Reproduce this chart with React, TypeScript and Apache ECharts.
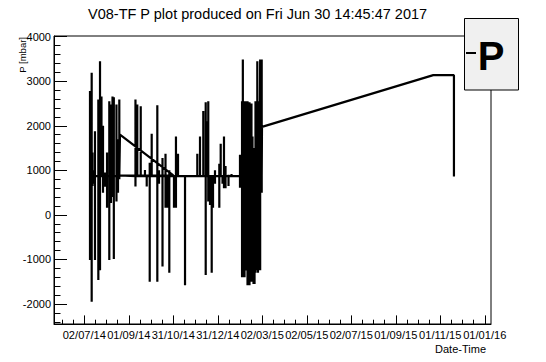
import React, { useEffect, useRef } from "react";
import * as echarts from "echarts";

// x values: days since 02/07/14 (first labelled tick); y values: P in mbar
const TICK_PERIOD = 60.875;
const TICK_LABELS = ["02/07/14", "01/09/14", "31/10/14", "31/12/14", "02/03/15", "02/05/15", "02/07/15", "01/09/15", "01/11/15", "01/01/16"];
const Y_TICKS = [-2000, -1000, 0, 1000, 2000, 3000, 4000];
const X_MIN = -41.45;
const X_MAX = 556.4;
const Y_MIN = -2449;
const Y_MAX = 4016;
const BASELINE = 870;

const C1_DAYS = [7.8, 10.1, 11.2, 12.5, 14.6, 19.2, 21.5, 23.5, 25.6, 28.3, 31.1, 34.2, 36.5, 38.6, 40.4, 44.0, 46.1, 47.9];
const C1_HIGH = [2780, 3190, 1400, 1000, 1880, 2590, 3450, 2660, 2000, 950, 1400, 2550, 2480, 2660, 2640, 2480, 1700, 2590];
const C1_LOW = [-1010, -1950, 650, 700, -1010, -1460, -1240, 870, 500, 630, 160, -1010, 270, 400, -990, 300, 500, 800];

const DIAG_DAYS = [48.8, 121.8];
const DIAG_VALUES = [1800, 885];

const C2_DAYS = [70.0, 72.5, 77.2, 83.0, 85.4, 89.5, 92.2, 99.9, 102.2, 107.0, 111.1, 113.8, 116.3, 122.7, 125.4, 128.2, 137.8, 154.6, 158.3, 162.8, 166.1, 167.9, 169.6, 172.0, 174.3, 176.1, 178.8, 184.7, 186.6, 189.1, 191.1, 193.2, 197.3, 201.4];
const C2_HIGH = [2590, 2480, 2440, 1010, 870, 1170, 1820, 2460, 1000, 1280, 1370, 870, 1000, 870, 1760, 1370, 870, 1370, 1760, 2330, 2530, 2100, 2550, 870, 870, 700, 1000, 1150, 1600, 870, 1760, 1100, 900, 920];
const C2_LOW = [637, 870, 870, 870, 637, -1500, 870, -1500, 700, -1160, 160, 160, -1300, 160, 160, 870, -1577, 870, 870, 870, -1350, 870, 300, 225, -1300, 160, 700, 160, 870, 700, 600, 600, 650, 870];

const C3_DAYS = [213.0, 214.5, 215.8, 216.9, 218.1, 219.2, 220.5, 221.9, 223.3, 224.6, 226.0, 227.4, 228.7, 230.1, 231.5, 232.9, 234.2, 235.6, 236.7, 237.6, 238.6, 239.7, 240.6, 241.7, 242.7];
const C3_HIGH = [1350, 1350, 2550, 3490, 2550, 2330, 2550, 2000, 2550, 1500, 2530, 1760, 2500, 1760, 1500, 1350, 2550, 1760, 3450, 2550, 1760, 1760, 3490, 1760, 3490];
const C3_LOW = [610, 610, -1400, 610, -1400, -1400, 610, -1250, -1580, -1580, -1580, -1300, -1500, -1300, -1550, -1550, -1300, -1240, -1240, -1300, -1240, -1240, -1240, 870, 500];

const TAIL_DAYS = [243.1, 477.4, 505.7, 505.7];
const TAIL_VALUES = [1975, 3137, 3137, 863];

const FONT = "'Liberation Sans', Arial, Helvetica, sans-serif";

function addSpikes(out: number[][], days: number[], high: number[], low: number[]) {
  days.forEach((d, i) => {
    out.push([d, BASELINE], [d, high[i]], [d, low[i]], [d, BASELINE]);
  });
}

function buildPath(): number[][] {
  const path: number[][] = [];
  addSpikes(path, C1_DAYS, C1_HIGH, C1_LOW);
  DIAG_DAYS.forEach((d, i) => path.push([d, DIAG_VALUES[i]]));
  path.push([DIAG_DAYS[0], BASELINE + 15]);
  addSpikes(path, C2_DAYS, C2_HIGH, C2_LOW);
  addSpikes(path, C3_DAYS, C3_HIGH, C3_LOW);
  path.push([TAIL_DAYS[0], BASELINE]);
  TAIL_DAYS.forEach((d, i) => path.push([d, TAIL_VALUES[i]]));
  return path;
}

export default function App() {
  const ref = useRef<HTMLDivElement>(null);
  useEffect(() => {
    document.body.style.margin = "0";
    if (!ref.current) return;
    const chart = echarts.init(ref.current, undefined, { renderer: "svg" });
    const majorDays = TICK_LABELS.map((_, i) => i * TICK_PERIOD);
    const minorDays: number[] = [];
    for (let k = -3; k < 50; k++) {
      const v = (k * TICK_PERIOD) / 4;
      if (k % 4 !== 0 && v > X_MIN && v < X_MAX) minorDays.push(v);
    }
    const yMinor: number[] = [];
    for (let v = -2400; v <= 4000; v += 200) {
      if (v % 1000 !== 0 && v > Y_MIN && v < Y_MAX) yMinor.push(v);
    }
    const black = "#000";
    chart.setOption({
      animation: false,
      backgroundColor: "#fff",
      title: {
        text: "V08-TF P plot produced on Fri Jun 30 14:45:47 2017",
        left: 88,
        top: 6,
        padding: 0,
        textStyle: { fontSize: 14.5, fontWeight: "normal", color: black, fontFamily: FONT },
      },
      grid: { left: 54, top: 36, width: 437, height: 288, show: true, borderColor: black, borderWidth: 1, backgroundColor: "transparent" },
      xAxis: [
        {
          type: "value",
          min: X_MIN,
          max: X_MAX,
          position: "bottom",
          axisLine: { show: true, onZero: false, lineStyle: { color: black, width: 1 } },
          axisTick: { show: true, inside: true, length: 8.6, customValues: majorDays, lineStyle: { color: black, width: 1 } },
          axisLabel: {
            show: true,
            customValues: majorDays,
            formatter: (v: number) => TICK_LABELS[Math.round(v / TICK_PERIOD)] ?? "",
            color: black,
            fontSize: 11.1,
            fontFamily: FONT,
            margin: 5,
          },
          splitLine: { show: false },
        },
        {
          type: "value",
          min: X_MIN,
          max: X_MAX,
          position: "bottom",
          axisLine: { show: false, onZero: false },
          axisTick: { show: true, inside: true, length: 4.3, customValues: minorDays, lineStyle: { color: black, width: 1 } },
          axisLabel: { show: false },
          splitLine: { show: false },
        },
      ],
      yAxis: [
        {
          type: "value",
          min: Y_MIN,
          max: Y_MAX,
          position: "left",
          axisLine: { show: true, onZero: false, lineStyle: { color: black, width: 1 } },
          axisTick: { show: true, inside: true, length: 13, customValues: Y_TICKS, lineStyle: { color: black, width: 1 } },
          axisLabel: {
            show: true,
            customValues: Y_TICKS,
            formatter: (v: number) => String(Math.round(v)),
            color: black,
            fontSize: 11,
            fontFamily: FONT,
            margin: 3,
          },
          splitLine: { show: false },
        },
        {
          type: "value",
          min: Y_MIN,
          max: Y_MAX,
          position: "left",
          axisLine: { show: false, onZero: false },
          axisTick: { show: true, inside: true, length: 6.5, customValues: yMinor, lineStyle: { color: black, width: 1 } },
          axisLabel: { show: false },
          splitLine: { show: false },
        },
      ],
      series: [
        {
          name: "P",
          type: "line",
          xAxisIndex: 0,
          yAxisIndex: 0,
          data: buildPath(),
          showSymbol: false,
          symbol: "none",
          lineStyle: { color: black, width: 2.2 },
          clip: true,
        },
      ],
      graphic: [
        {
          type: "text",
          x: 22,
          y: 37,
          rotation: Math.PI / 2,
          style: { text: "P [mbar]", fontSize: 9.5, fontFamily: FONT, fill: black, align: "right", verticalAlign: "middle" },
        },
        {
          type: "text",
          x: 486,
          y: 348.5,
          style: { text: "Date-Time", fontSize: 11, fontFamily: FONT, fill: black, align: "right", verticalAlign: "middle" },
        },
        {
          type: "rect",
          shape: { x: 464.5, y: 18.5, width: 54, height: 71.5 },
          style: { fill: "#f0f0f0", stroke: black, lineWidth: 1 },
          z: 100,
        },
        {
          type: "line",
          shape: { x1: 466, y1: 53, x2: 476, y2: 53 },
          style: { stroke: black, lineWidth: 2 },
          z: 101,
        },
        {
          type: "text",
          x: 491,
          y: 55.5,
          style: { text: "P", fontSize: 40, fontWeight: "bold", fontFamily: FONT, fill: black, align: "center", verticalAlign: "middle" },
          z: 101,
        },
      ],
    });
    return () => chart.dispose();
  }, []);
  return <div ref={ref} style={{ width: 546, height: 362 }} />;
}
